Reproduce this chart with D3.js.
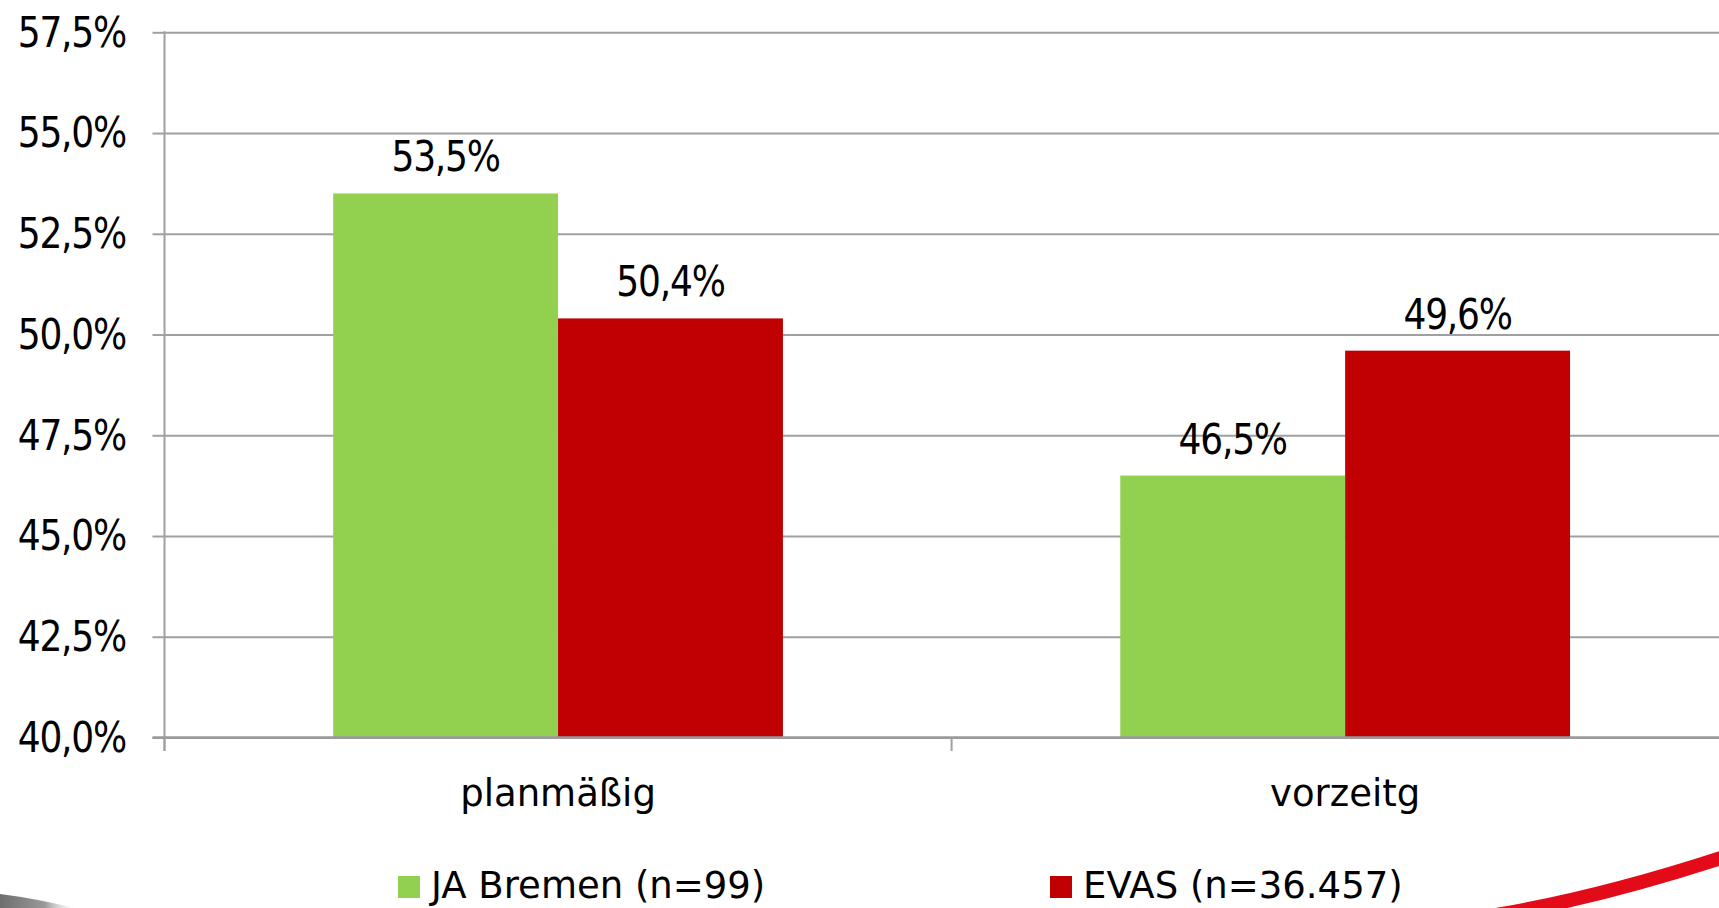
<!DOCTYPE html>
<html>
<head>
<meta charset="utf-8">
<script src="https://cdn.jsdelivr.net/npm/d3@7"></script>
<style>
  html, body { margin: 0; padding: 0; background: #ffffff; overflow: hidden; }
  svg { display: block; }
  .num { font-family: "DejaVu Sans Condensed", "DejaVu Sans", sans-serif; font-stretch: condensed; font-size: 40px; letter-spacing: -1.2px; fill: #000; }
  .lab { font-family: "DejaVu Sans", sans-serif; font-size: 37px; fill: #000; }
</style>
</head>
<body>
<svg id="chart" width="1719" height="908"></svg>
<script>
// ---- data ----
const categories = ["planmäßig", "vorzeitg"];
const seriesNames = ["JA Bremen (n=99)", "EVAS (n=36.457)"];
const seriesColors = ["#92d050", "#c00000"];
const jaBremen = [53.5, 46.5];
const evas = [50.4, 49.6];
const yTicks = [40.0, 42.5, 45.0, 47.5, 50.0, 52.5, 55.0, 57.5];

(function () {
const seriesValues = [jaBremen, evas];
const fmt = v => d3.format(".1f")(v).replace(".", ",") + "%";
const stretch = 1.05;

const svg = d3.select("#chart");
const W = 1719, H = 908;
const mLeft = 164.5, mTop = 32.3, mBottom = 737.5, mRight = 1738.7;

const y = d3.scaleLinear().domain([40, 57.5]).range([mBottom, mTop]);
const x0 = d3.scaleBand().domain(categories).range([mLeft, mRight]).paddingInner(0).paddingOuter(0);
const x1 = d3.scaleBand().domain(seriesNames).range([0, x0.bandwidth()]).paddingInner(0).paddingOuter(0.75);

// decorative swooshes
const defs = svg.append("defs");
const g1 = defs.append("linearGradient").attr("id", "greyfade").attr("x1", "0").attr("x2", "1").attr("y1", "0").attr("y2", "0");
g1.append("stop").attr("offset", "0").attr("stop-color", "#6e6e6e");
g1.append("stop").attr("offset", "0.55").attr("stop-color", "#9a9a9a");
g1.append("stop").attr("offset", "1").attr("stop-color", "#ffffff").attr("stop-opacity", 0);
svg.append("path")
  .attr("d", "M0,894 Q40,899 82,910 L0,910 Z")
  .attr("fill", "url(#greyfade)");
svg.append("path")
  .attr("d", "M1490,916 Q1600,898 1730,855")
  .attr("fill", "none")
  .attr("stroke", "#e30b17")
  .attr("stroke-width", 14);

// gridlines
const grid = svg.append("g").attr("transform", `translate(${mLeft},0)`)
  .call(d3.axisLeft(y).tickValues(yTicks).tickSize(-(W - mLeft)).tickFormat(""));
grid.select(".domain").remove();
grid.selectAll(".tick line").attr("stroke", "#a0a0a0").attr("stroke-width", 2);

// y axis with labels
const yAxis = svg.append("g").attr("transform", `translate(${mLeft},0)`)
  .call(d3.axisLeft(y).tickValues(yTicks).tickSize(12).tickSizeOuter(0).tickPadding(26.5).tickFormat(fmt));
yAxis.attr("font-size", null).attr("font-family", null);
yAxis.select(".domain").remove();
yAxis.selectAll(".tick line").attr("stroke", "#a0a0a0").attr("stroke-width", 2);
yAxis.selectAll(".tick text")
  .attr("class", "num").attr("fill", "#000")
  .attr("dy", "0.33em")
  .attr("transform", `scale(1,${stretch})`);

// vertical axis line
svg.append("line")
  .attr("x1", mLeft).attr("x2", mLeft)
  .attr("y1", y(57.5) - 1).attr("y2", y(40) + 13.5)
  .attr("stroke", "#a0a0a0").attr("stroke-width", 2);

// bars
const groups = svg.append("g").selectAll("g")
  .data(categories)
  .join("g")
  .attr("transform", d => `translate(${x0(d)},0)`);

groups.selectAll("rect")
  .data((c, i) => seriesNames.map((s, k) => ({ s, k, v: seriesValues[k][i] })))
  .join("rect")
  .attr("x", d => x1(d.s))
  .attr("width", x1.bandwidth())
  .attr("y", d => y(d.v))
  .attr("height", d => y(40) - y(d.v))
  .attr("fill", d => seriesColors[d.k]);

groups.selectAll("text.val")
  .data((c, i) => seriesNames.map((s, k) => ({ s, k, v: seriesValues[k][i] })))
  .join("text")
  .attr("class", "num val")
  .attr("transform", d => `translate(${x1(d.s) + x1.bandwidth() / 2},${y(d.v) - 22}) scale(1,${stretch})`)
  .attr("text-anchor", "middle")
  .text(d => fmt(d.v));

// x axis line
svg.append("line")
  .attr("x1", mLeft - 12).attr("x2", W)
  .attr("y1", y(40)).attr("y2", y(40))
  .attr("stroke", "#9a9a9a").attr("stroke-width", 2.5);

// category ticks at band boundaries
const bounds = categories.map(c => x0(c)).concat([x0(categories[categories.length - 1]) + x0.bandwidth()]);
svg.append("g").selectAll("line")
  .data(bounds.filter(b => b < W))
  .join("line")
  .attr("x1", d => d).attr("x2", d => d)
  .attr("y1", y(40)).attr("y2", y(40) + 13.5)
  .attr("stroke", "#a0a0a0").attr("stroke-width", 2);

// category labels
svg.append("g").selectAll("text")
  .data(categories)
  .join("text")
  .attr("class", "lab")
  .attr("x", d => x0(d) + x0.bandwidth() / 2)
  .attr("y", 806)
  .attr("text-anchor", "middle")
  .text(d => d);

// legend
const legendX = [398, 1050];
const leg = svg.append("g").selectAll("g")
  .data(seriesNames)
  .join("g")
  .attr("transform", (d, i) => `translate(${legendX[i]},876)`);
leg.append("rect").attr("width", 22).attr("height", 22).attr("fill", (d, i) => seriesColors[i]);
leg.append("text").attr("class", "lab").attr("x", 33).attr("y", 22).text(d => d);
})();
</script>
</body>
</html>
